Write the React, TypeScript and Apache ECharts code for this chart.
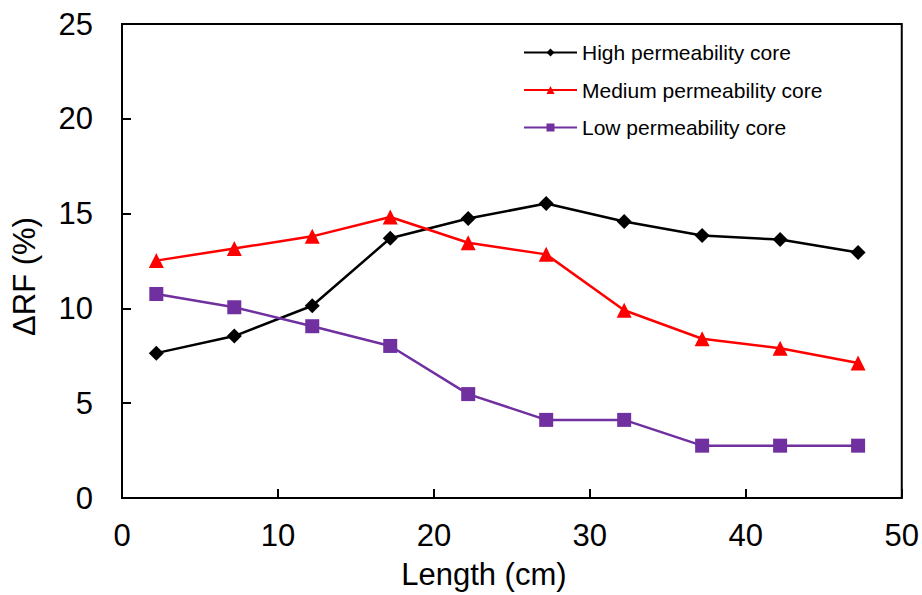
import React, { useEffect, useRef } from "react";
import * as echarts from "echarts";

const lengths = [2.2, 7.2, 12.2, 17.2, 22.2, 27.2, 32.2, 37.2, 42.2, 47.2];
const highCore = [7.64, 8.54, 10.14, 13.7, 14.74, 15.53, 14.58, 13.84, 13.63, 12.95];
const mediumCore = [12.52, 13.16, 13.8, 14.82, 13.46, 12.85, 9.9, 8.4, 7.9, 7.12];
const lowCore = [10.76, 10.06, 9.06, 8.02, 5.48, 4.12, 4.12, 2.76, 2.76, 2.76];
const seriesNames = ["High permeability core", "Medium permeability core", "Low permeability core"];

const FONT = "Liberation Sans, Arial, sans-serif";
const FS = 31;

export default function App() {
  const ref = useRef<HTMLDivElement>(null);
  useEffect(() => {
    if (!ref.current) return;
    const chart = echarts.init(ref.current, null, { renderer: "svg" });
    const pair = (ys: number[]) => lengths.map((x, i) => [x, ys[i]]);
    chart.setOption({
      animation: false,
      textStyle: { fontFamily: FONT },
      grid: {
        left: 122,
        right: 15,
        top: 24,
        bottom: 96,
        show: true,
        borderColor: "#000",
        borderWidth: 2,
        backgroundColor: "transparent",
      },
      legend: {
        left: 523,
        top: 42,
        padding: 0,
        orient: "vertical",
        itemWidth: 53,
        itemHeight: 10,
        itemGap: 16.5,
        textStyle: { fontSize: 21, color: "#000", fontFamily: FONT },
        data: seriesNames,
      },
      xAxis: {
        type: "value",
        min: 0,
        max: 50,
        interval: 10,
        name: "Length (cm)",
        nameLocation: "middle",
        nameGap: 61,
        nameTextStyle: { fontSize: FS, color: "#000", fontFamily: FONT, padding: [0, 56, 0, 0] },
        axisLine: { show: true, lineStyle: { color: "#000", width: 2 } },
        axisTick: { show: true, inside: true, length: 9, lineStyle: { color: "#000", width: 2 } },
        axisLabel: { fontSize: FS, color: "#000", margin: 22, fontFamily: FONT },
        splitLine: { show: false },
      },
      yAxis: {
        type: "value",
        min: 0,
        max: 25,
        interval: 5,
        name: "ΔRF (%)",
        nameLocation: "middle",
        nameGap: 82,
        nameTextStyle: { fontSize: FS, color: "#000", fontFamily: FONT, padding: [0, 31, 0, 0] },
        axisLine: { show: true, lineStyle: { color: "#000", width: 2 } },
        axisTick: { show: true, inside: true, length: 9, lineStyle: { color: "#000", width: 2 } },
        axisLabel: { fontSize: FS, color: "#000", margin: 29, fontFamily: FONT },
        splitLine: { show: false },
      },
      series: [
        {
          name: seriesNames[0],
          type: "line",
          data: pair(highCore),
          symbol: "diamond",
          symbolSize: 15,
          color: "#000000",
          lineStyle: { width: 2.5, color: "#000000" },
          itemStyle: { color: "#000000" },
        },
        {
          name: seriesNames[1],
          type: "line",
          data: pair(mediumCore),
          symbol: "triangle",
          symbolSize: 15,
          color: "#FF0000",
          lineStyle: { width: 2.5, color: "#FF0000" },
          itemStyle: { color: "#FF0000" },
        },
        {
          name: seriesNames[2],
          type: "line",
          data: pair(lowCore),
          symbol: "rect",
          symbolSize: 14,
          color: "#7030A0",
          lineStyle: { width: 2.5, color: "#7030A0" },
          itemStyle: { color: "#7030A0" },
        },
      ],
    });
    return () => chart.dispose();
  }, []);
  return <div ref={ref} style={{ width: 922, height: 595, position: "absolute", left: 0, top: 0 }} />;
}
